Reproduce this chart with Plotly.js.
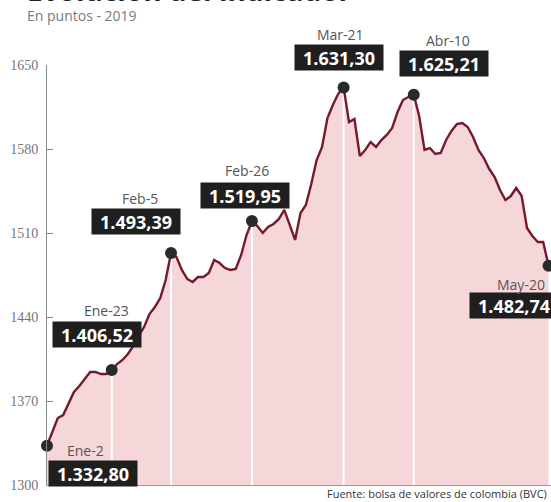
<!DOCTYPE html>
<html>
<head>
<meta charset="utf-8">
<script src="https://cdn.plot.ly/plotly-3.0.1.min.js"></script>
<style>html,body{margin:0;padding:0;background:#fff;}#chart{width:551px;height:502px;}</style>
</head>
<body>
<div id="chart"></div>
<script>
// Trading days 2019 (Bolsa de Valores de Colombia)
const dates = [
 "2019-01-02","2019-01-03","2019-01-04","2019-01-08","2019-01-09","2019-01-10","2019-01-11","2019-01-14","2019-01-15","2019-01-16",
 "2019-01-17","2019-01-18","2019-01-21","2019-01-22","2019-01-23","2019-01-24","2019-01-25","2019-01-28","2019-01-29","2019-01-30",
 "2019-01-31","2019-02-01","2019-02-04","2019-02-05","2019-02-06","2019-02-07","2019-02-08","2019-02-11","2019-02-12","2019-02-13",
 "2019-02-14","2019-02-15","2019-02-18","2019-02-19","2019-02-20","2019-02-21","2019-02-22","2019-02-25","2019-02-26","2019-02-27",
 "2019-02-28","2019-03-01","2019-03-04","2019-03-05","2019-03-06","2019-03-07","2019-03-08","2019-03-11","2019-03-12","2019-03-13",
 "2019-03-14","2019-03-15","2019-03-18","2019-03-19","2019-03-20","2019-03-21","2019-03-22","2019-03-26","2019-03-27","2019-03-28",
 "2019-03-29","2019-04-01","2019-04-02","2019-04-03","2019-04-04","2019-04-05","2019-04-08","2019-04-09","2019-04-10","2019-04-11",
 "2019-04-12","2019-04-15","2019-04-16","2019-04-17","2019-04-22","2019-04-23","2019-04-24","2019-04-25","2019-04-26","2019-04-29",
 "2019-04-30","2019-05-02","2019-05-03","2019-05-06","2019-05-07","2019-05-08","2019-05-09","2019-05-10","2019-05-13","2019-05-14",
 "2019-05-15","2019-05-16","2019-05-17","2019-05-20"
];
const values = [
 1332.8,1344.2,1355.8,1358.3,1367.5,1377.5,1382.5,1388.3,1394.2,1394.2,
 1392.5,1392.5,1395.8,1400.8,1404.2,1409.2,1415.8,1424.2,1431.7,1442.5,
 1448.3,1455.8,1470.8,1493.39,1490.0,1479.2,1471.7,1469.2,1473.3,1473.3,
 1476.7,1487.5,1485.0,1480.8,1479.2,1480.0,1491.7,1508.3,1519.95,1515.8,
 1510.0,1515.0,1517.5,1521.7,1529.2,1516.7,1504.2,1526.7,1533.3,1550.8,
 1570.8,1581.7,1605.8,1616.7,1626.0,1631.3,1602.5,1605.0,1574.2,1579.2,
 1585.8,1581.7,1587.5,1591.7,1597.5,1610.8,1620.8,1623.3,1625.21,1607.5,
 1579.2,1580.8,1575.8,1576.7,1587.5,1595.0,1600.8,1601.7,1598.3,1590.0,
 1579.2,1572.5,1563.3,1556.7,1545.8,1537.5,1540.8,1547.5,1541.0,1514.2,
 1507.5,1502.5,1502.5,1482.74
];
const keyIdx = [0, 12, 23, 38, 55, 68, 93];
const keyDates = ["Ene-2", "Ene-23", "Feb-5", "Feb-26", "Mar-21", "Abr-10", "May-20"];
const keyLabels = ["1.332,80", "1.406,52", "1.493,39", "1.519,95", "1.631,30", "1.625,21", "1.482,74"];
const yTicks = [1300, 1370, 1440, 1510, 1580, 1650];
const yTickText = ["1300", "1370", "1440", "1510", "1580", "1650"];

// label placement (pixel shifts relative to each key point) — style only
const boxShift  = [[46,-28],[-15,36],[-35,31],[-7,26],[-5,30],[30,31],[-35,-40]];
const dateShift = [[38,-5],[-5,60],[-31,54],[-5,51],[-3,53],[34,54],[-28,-19]];

const keyX = keyIdx.map(i => dates[i]);
const keyY = keyIdx.map(i => values[i]);

// white guide lines from each key point down to the base
const guideX = [], guideY = [];
keyIdx.forEach((i, k) => {
  if (k === 0 || k === keyIdx.length - 1) return;
  guideX.push(dates[i], dates[i], null);
  guideY.push(yTicks[0], values[i], null);
});

const traces = [
  {x: dates, y: values, type: 'scatter', mode: 'lines', fill: 'tozeroy',
   fillcolor: '#f5d7da', line: {width: 0, color: 'rgba(0,0,0,0)'}, hoverinfo: 'skip'},
  {x: guideX, y: guideY, type: 'scatter', mode: 'lines',
   line: {color: '#ffffff', width: 2}, hoverinfo: 'skip'},
  {x: dates, y: values, type: 'scatter', mode: 'lines',
   line: {color: '#761a2b', width: 2.4}},
  {x: keyX, y: keyY, type: 'scatter', mode: 'markers', cliponaxis: false,
   marker: {size: 12, color: '#2a2a2a'}}
];

const annotations = [];
keyIdx.forEach((i, k) => {
  annotations.push({
    x: dates[i], y: values[i], xref: 'x', yref: 'y', showarrow: false,
    xshift: boxShift[k][0], yshift: boxShift[k][1],
    text: keyLabels[k], bgcolor: '#1f1f1f', borderpad: 2, width: 84, height: 21,
    font: {family: 'Open Sans', size: 18, color: '#ffffff', weight: 700}
  });
  annotations.push({
    x: dates[i], y: values[i], xref: 'x', yref: 'y', showarrow: false,
    xshift: dateShift[k][0], yshift: dateShift[k][1],
    text: keyDates[k],
    font: {family: 'Open Sans', size: 14, color: '#555555'}
  });
});
annotations.push({
  xref: 'paper', yref: 'paper', x: -0.0437, y: 1.1286, xanchor: 'left', yanchor: 'bottom',
  showarrow: false, text: 'Evolución del indicador',
  font: {family: 'Open Sans', size: 28, color: '#222222', weight: 700}
});
annotations.push({
  xref: 'paper', yref: 'paper', x: -0.0437, y: 1.1167, xanchor: 'left', yanchor: 'middle',
  showarrow: false, text: 'En puntos - 2019',
  font: {family: 'Open Sans', size: 14, color: '#7a7a7a'}
});
annotations.push({
  xref: 'paper', yref: 'paper', x: 0.5516, y: -0.0214, xanchor: 'left', yanchor: 'middle',
  showarrow: false, text: 'Fuente: bolsa de valores de colombia (BVC)',
  font: {family: 'Open Sans', size: 11, color: '#333333'}
});

const layout = {
  width: 551, height: 502,
  margin: {l: 47, r: 0, t: 65, b: 17, pad: 0},
  paper_bgcolor: '#ffffff', plot_bgcolor: '#ffffff',
  showlegend: false,
  xaxis: {type: 'category', range: [0, 93.45], showticklabels: false, ticks: '',
          showgrid: false, zeroline: false, showline: true, linecolor: '#9a9a9a', linewidth: 1},
  yaxis: {range: [1300, 1650], tickmode: 'array', tickvals: yTicks, ticktext: yTickText,
          showgrid: false, zeroline: false, showline: true, linecolor: '#8a8a8a', linewidth: 1,
          ticks: 'inside', ticklen: 6, tickcolor: '#8a8a8a', ticklabelstandoff: 5,
          tickfont: {family: 'Liberation Sans Narrow', size: 14, color: '#777777'}},
  annotations: annotations
};

Plotly.newPlot('chart', traces, layout, {displayModeBar: false, staticPlot: true});
</script>
</body>
</html>
